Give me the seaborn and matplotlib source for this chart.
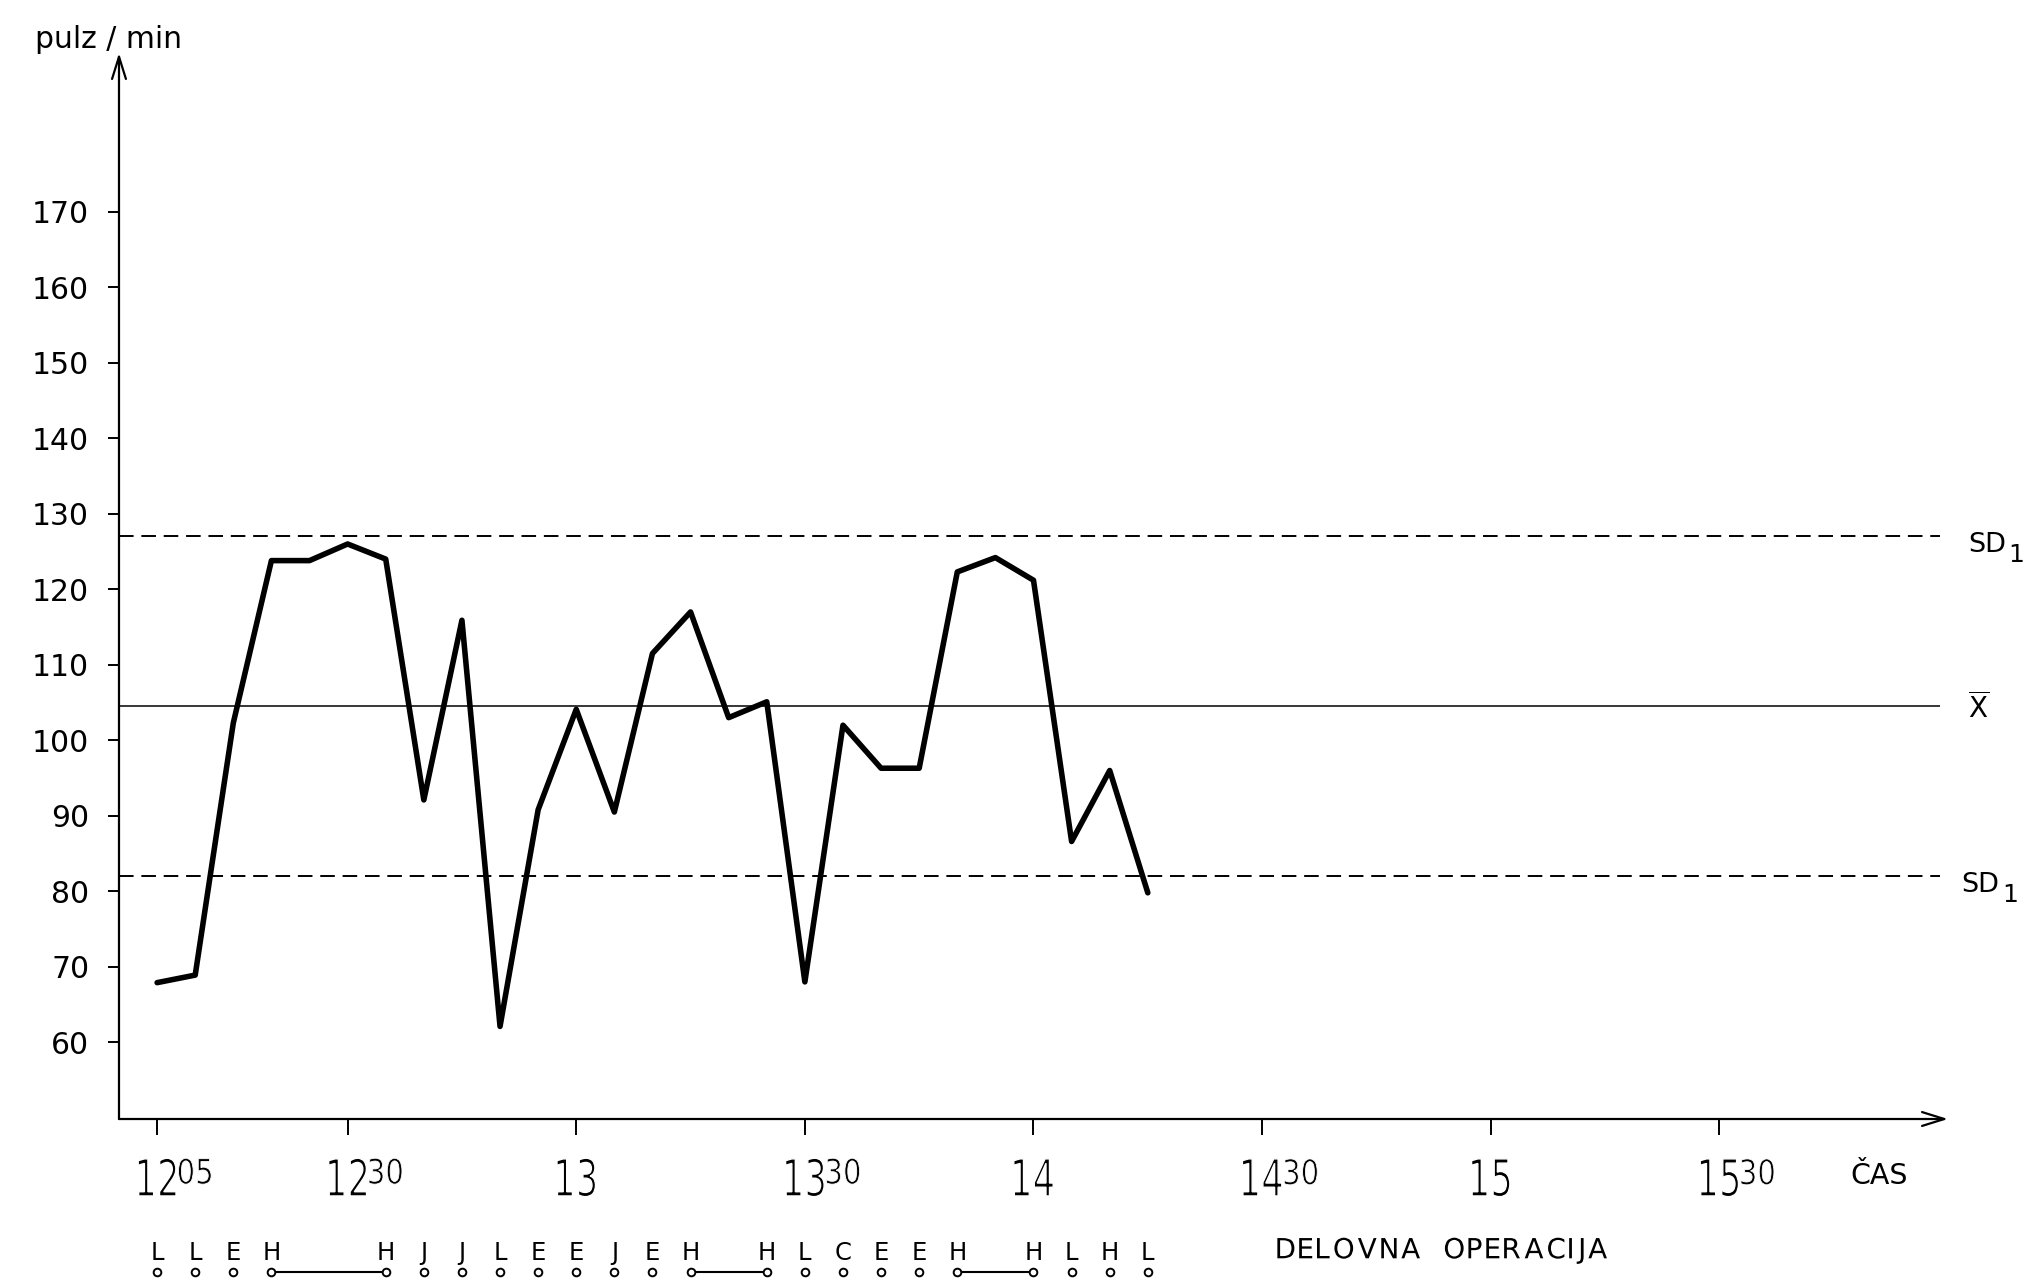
import numpy as np
import pandas as pd
import matplotlib.pyplot as plt
import seaborn as sns
from matplotlib.font_manager import FontProperties
from matplotlib.textpath import TextPath
from matplotlib.patches import PathPatch
from matplotlib.path import Path
from matplotlib.transforms import Affine2D, ScaledTranslation

# minutes after 12:00 and measured pulse
minutes = [5, 10, 15, 20, 25, 30, 35, 40, 45, 50, 55, 60, 65, 70,
           75, 80, 85, 90, 95, 100, 105, 110, 115, 120, 125, 130, 135]
pulse = [67.9, 68.9, 102.3, 123.8, 123.8, 126.0, 124.0, 92.1, 115.9, 62.1,
         90.8, 104.1, 90.5, 111.5, 117.0, 103.0, 105.1, 68.0, 102.0, 96.3,
         96.3, 122.3, 124.2, 121.2, 86.6, 96.0, 79.8]

sd_upper = 127.1
mean_x = 104.5
sd_lower = 82.0

y_ticks = [60, 70, 80, 90, 100, 110, 120, 130, 140, 150, 160, 170]
tick_minutes = [5, 30, 60, 90, 120, 150, 180, 210]
tick_hours = ['12', '12', '13', '13', '14', '14', '15', '15']
tick_mins = ['05', '30', '', '30', '', '30', '', '30']

op_minutes = [5, 10, 15, 20, 35, 40, 45, 50, 55, 60, 65, 70, 75, 85, 90,
              95, 100, 105, 110, 120, 125, 130, 135]
op_labels = ['L', 'L', 'E', 'H', 'H', 'J', 'J', 'L', 'E', 'E', 'J', 'E',
             'H', 'H', 'L', 'C', 'E', 'E', 'H', 'H', 'L', 'H', 'L']
op_spans = [(20, 35), (75, 85), (110, 120)]

df = pd.DataFrame({'cas': minutes, 'pulz': pulse})

sns.set_theme(style='white')
plt.rcParams['font.family'] = ['DejaVu Sans']
plt.rcParams['text.color'] = 'black'
plt.rcParams['xtick.color'] = 'black'
plt.rcParams['ytick.color'] = 'black'

fig = plt.figure(figsize=(20.32, 12.81), dpi=100)
ax = fig.add_axes([0.05856, 0.12646, 0.9001, 0.83216])

sns.lineplot(data=df, x='cas', y='pulz', color='black', lw=4, ax=ax, legend=False)

ax.hlines([sd_upper, sd_lower], 0, 239, colors='black', lw=1.4, linestyles=(0, (7.5, 4)))
ax.hlines(mean_x, 0, 239, colors='black', lw=1.1)

ax.set_xlim(0, 240)
ax.set_ylim(49.84, 191.03)
ax.set_xlabel('')
ax.set_ylabel('')
for s in ax.spines.values():
    s.set_visible(False)

# axes with arrow heads
arrow = dict(arrowstyle='->,head_length=0.8,head_width=0.25', lw=1.6, color='black',
             shrinkA=0, shrinkB=0, mutation_scale=20)
ax.annotate('', xy=(1, 0), xytext=(0, 0), xycoords='axes fraction', arrowprops=arrow)
ax.annotate('', xy=(0, 1), xytext=(0, 0), xycoords='axes fraction', arrowprops=arrow)

ax.set_yticks(y_ticks)
ax.set_yticklabels([str(v) for v in y_ticks])
ax.tick_params(axis='y', direction='out', length=8, width=1.4, pad=13.5,
               labelsize=21.5, left=True)
ax.set_xticks(tick_minutes)
ax.set_xticklabels([])
ax.tick_params(axis='x', direction='out', length=11.5, width=1.4, bottom=True)

fp = FontProperties(family='DejaVu Sans')
xt = ax.get_xaxis_transform()


def path_text(s, xy, trans, dx=0, dy=0, size=20, sx=1.0, gap=None, space=0, ha='left', thin=0):
    # stencil-like lettering: text as a path, optionally squeezed or letter-spaced (points)
    parts = []
    if gap is None:
        p = TextPath((0, 0), s, size=size, prop=fp)
        parts.append(p.transformed(Affine2D().scale(sx, 1)))
    else:
        cur = 0.0
        for ch in s:
            if ch == ' ':
                cur += space
                continue
            p = TextPath((0, 0), ch, size=size, prop=fp)
            e = p.get_extents()
            parts.append(p.transformed(Affine2D().scale(sx, 1).translate(cur - e.x0 * sx, 0)))
            cur += e.width * sx + gap
    path = Path.make_compound_path(*parts)
    e = path.get_extents()
    shift = {'left': -e.x0, 'center': -(e.x0 + e.x1) / 2, 'right': -e.x1}[ha]
    tr = Affine2D().translate(shift + dx, dy).scale(fig.dpi / 72) + \
        ScaledTranslation(xy[0], xy[1], trans)
    ec = 'white' if thin else 'none'
    fig.add_artist(PathPatch(path, transform=tr, fc='black', ec=ec, lw=thin))
    return e.width, e.y1


# time labels with superscript minutes
for t, h, m in zip(tick_minutes, tick_hours, tick_mins):
    w, top = path_text(h, (t, 0), xt, dy=-55.4, size=36.6, sx=0.7, ha='center', thin=1.0)
    if m:
        sup = TextPath((0, 0), m, size=24.7, prop=fp).get_extents()
        path_text(m, (t, 0), xt, dx=w / 2 + 1.8, dy=-55.4 + top - sup.y1, size=24.7,
                  sx=0.85, ha='left', thin=0.6)

ax.annotate('ČAS', xy=(230.9, 0), xycoords=xt, xytext=(0, -46.8), textcoords='offset points',
            ha='center', va='baseline', fontsize=20.5)

# working operations row
for t, lab in zip(op_minutes, op_labels):
    ax.annotate(lab, xy=(t, 0), xycoords=xt, xytext=(0, -101.5), textcoords='offset points',
                ha='center', va='baseline', fontsize=17.5)
for a, b in op_spans:
    ax.plot([a, b], [-0.1435, -0.1435], transform=xt, color='black', lw=1.5, clip_on=False)
ax.plot(op_minutes, [-0.1435] * len(op_minutes), transform=xt, ls='none', marker='o',
        ms=5.5, mfc='white', mec='black', mew=1.4, clip_on=False)
path_text('DELOVNA OPERACIJA', (152.0, 0), xt, dy=-100.3, size=20, gap=3.45, space=14.5)

# labels for reference lines
yt = ax.get_yaxis_transform()
for v, x0, x1 in [(sd_upper, 1.0109, 1.0328), (sd_lower, 1.0075, 1.0294)]:
    ax.annotate('SD', xy=(x0, v), xycoords=yt, xytext=(0, -11.5), textcoords='offset points',
                ha='left', va='baseline', fontsize=19.5, annotation_clip=False)
    ax.annotate('1', xy=(x1, v), xycoords=yt, xytext=(0, -18.7), textcoords='offset points',
                ha='left', va='baseline', fontsize=18, annotation_clip=False)
ax.annotate(r'$\overline{\mathrm{X}}$', xy=(1.0165, mean_x), xycoords=yt, xytext=(0, -8.2),
            textcoords='offset points', ha='center', va='baseline', fontsize=20,
            annotation_clip=False)

fig.text(35 / 2032, 1 - 48 / 1281, 'pulz / min', ha='left', va='baseline', fontsize=21.5)

plt.savefig('out.png', dpi=100)
